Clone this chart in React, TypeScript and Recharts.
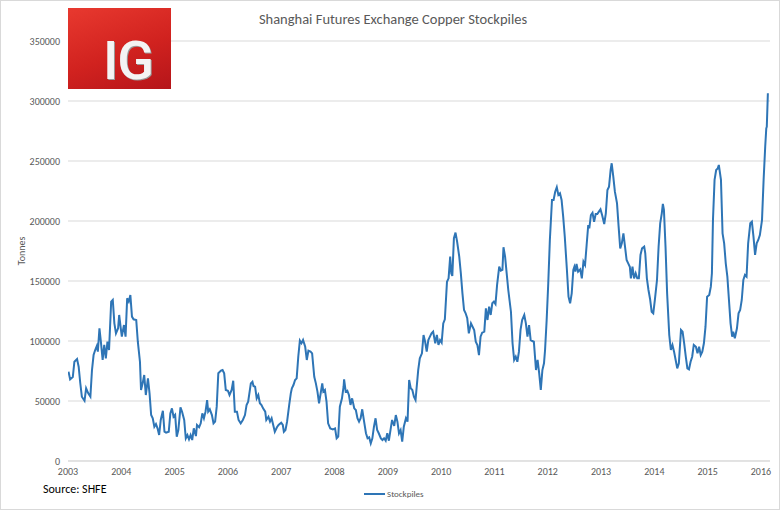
import { LineChart, Line, XAxis, YAxis, CartesianGrid } from 'recharts';

// weekly-ish readings of SHFE copper stocks (decimal year, tonnes)
const dates = [
  2003.01, 2003.04, 2003.09, 2003.12, 2003.17, 2003.2, 2003.23, 2003.26, 2003.31, 2003.34,
  2003.38, 2003.42, 2003.45, 2003.48, 2003.51, 2003.54, 2003.56, 2003.59, 2003.62, 2003.65,
  2003.68, 2003.71, 2003.74, 2003.77, 2003.81, 2003.84, 2003.87, 2003.9, 2003.94, 2003.96,
  2003.99, 2004.01, 2004.05, 2004.08, 2004.11, 2004.14, 2004.17, 2004.2, 2004.23, 2004.28,
  2004.31, 2004.35, 2004.37, 2004.4, 2004.43, 2004.46, 2004.5, 2004.53, 2004.56, 2004.59,
  2004.62, 2004.65, 2004.68, 2004.71, 2004.74, 2004.78, 2004.81, 2004.84, 2004.89, 2004.92,
  2004.95, 2004.98, 2005.01, 2005.04, 2005.07, 2005.11, 2005.14, 2005.18, 2005.21, 2005.24,
  2005.27, 2005.3, 2005.33, 2005.36, 2005.4, 2005.42, 2005.46, 2005.49, 2005.52, 2005.55,
  2005.58, 2005.61, 2005.63, 2005.66, 2005.7, 2005.73, 2005.76, 2005.79, 2005.82, 2005.87,
  2005.9, 2005.93, 2005.96, 2006.0, 2006.03, 2006.07, 2006.1, 2006.13, 2006.17, 2006.2,
  2006.24, 2006.28, 2006.32, 2006.35, 2006.38, 2006.43, 2006.46, 2006.48, 2006.51, 2006.54,
  2006.57, 2006.6, 2006.63, 2006.66, 2006.7, 2006.72, 2006.76, 2006.79, 2006.82, 2006.85,
  2006.88, 2006.92, 2006.95, 2007.0, 2007.03, 2007.05, 2007.08, 2007.11, 2007.15, 2007.18,
  2007.2, 2007.23, 2007.26, 2007.29, 2007.32, 2007.35, 2007.38, 2007.41, 2007.45, 2007.48,
  2007.51, 2007.55, 2007.58, 2007.62, 2007.65, 2007.68, 2007.71, 2007.74, 2007.77, 2007.79,
  2007.82, 2007.85, 2007.88, 2007.92, 2007.97, 2008.01, 2008.04, 2008.07, 2008.1, 2008.14,
  2008.17, 2008.18, 2008.21, 2008.24, 2008.27, 2008.3, 2008.33, 2008.37, 2008.4, 2008.43,
  2008.46, 2008.49, 2008.52, 2008.55, 2008.59, 2008.62, 2008.65, 2008.68, 2008.71, 2008.74,
  2008.77, 2008.8, 2008.83, 2008.87, 2008.9, 2008.93, 2008.96, 2008.99, 2009.02, 2009.05,
  2009.08, 2009.12, 2009.15, 2009.18, 2009.21, 2009.24, 2009.27, 2009.3, 2009.34, 2009.37,
  2009.4, 2009.43, 2009.46, 2009.49, 2009.52, 2009.57, 2009.6, 2009.64, 2009.67, 2009.7,
  2009.73, 2009.76, 2009.79, 2009.82, 2009.85, 2009.89, 2009.92, 2009.95, 2009.98, 2010.01,
  2010.04, 2010.07, 2010.11, 2010.14, 2010.17, 2010.19, 2010.21, 2010.24, 2010.27, 2010.3,
  2010.34, 2010.37, 2010.4, 2010.43, 2010.46, 2010.49, 2010.52, 2010.56, 2010.59, 2010.62,
  2010.65, 2010.68, 2010.71, 2010.74, 2010.77, 2010.81, 2010.84, 2010.87, 2010.9, 2010.93,
  2010.96, 2010.99, 2011.02, 2011.05, 2011.09, 2011.12, 2011.15, 2011.17, 2011.2, 2011.23,
  2011.26, 2011.31, 2011.34, 2011.37, 2011.4, 2011.43, 2011.46, 2011.49, 2011.52, 2011.56,
  2011.59, 2011.62, 2011.65, 2011.68, 2011.71, 2011.74, 2011.78, 2011.81, 2011.84, 2011.87,
  2011.9, 2011.93, 2011.95, 2011.98, 2012.01, 2012.04, 2012.08, 2012.11, 2012.14, 2012.17,
  2012.2, 2012.23, 2012.26, 2012.29, 2012.32, 2012.36, 2012.39, 2012.42, 2012.45, 2012.48,
  2012.5, 2012.52, 2012.54, 2012.57, 2012.61, 2012.64, 2012.67, 2012.7, 2012.73, 2012.76,
  2012.78, 2012.81, 2012.84, 2012.87, 2012.9, 2012.93, 2012.96, 2012.99, 2013.02, 2013.06,
  2013.09, 2013.12, 2013.15, 2013.18, 2013.2, 2013.23, 2013.26, 2013.3, 2013.33, 2013.36,
  2013.39, 2013.42, 2013.45, 2013.48, 2013.51, 2013.54, 2013.56, 2013.59, 2013.62, 2013.65,
  2013.68, 2013.71, 2013.74, 2013.77, 2013.81, 2013.83, 2013.86, 2013.89, 2013.92, 2013.95,
  2013.98, 2014.01, 2014.05, 2014.08, 2014.11, 2014.14, 2014.16, 2014.18, 2014.21, 2014.24,
  2014.28, 2014.31, 2014.34, 2014.37, 2014.4, 2014.43, 2014.46, 2014.5, 2014.53, 2014.56,
  2014.59, 2014.62, 2014.65, 2014.68, 2014.71, 2014.74, 2014.78, 2014.81, 2014.84, 2014.87,
  2014.9, 2014.93, 2014.96, 2014.99, 2015.03, 2015.06, 2015.08, 2015.1, 2015.13, 2015.16,
  2015.19, 2015.21, 2015.25, 2015.28, 2015.31, 2015.34, 2015.37, 2015.4, 2015.43, 2015.46,
  2015.48, 2015.51, 2015.55, 2015.58, 2015.61, 2015.64, 2015.67, 2015.7, 2015.73, 2015.76,
  2015.8, 2015.83, 2015.86, 2015.89, 2015.92, 2015.95, 2015.98, 2016.02, 2016.05, 2016.08,
  2016.1, 2016.11, 2016.13,
];

const stockpiles = [
  74400, 68000, 70000, 82700, 85000, 78600, 65000, 53600, 50200, 60600,
  56400, 53600, 75800, 88300, 92500, 95800, 91100, 110600, 98100, 84200,
  96700, 85600, 99400, 92500, 132800, 134200, 114700, 106400, 110600, 121700,
  110600, 103600, 113300, 103600, 135600, 132800, 138300, 120300, 118100, 117500,
  99400, 82700, 59200, 64700, 71700, 55000, 68900, 56400, 38300, 35600,
  28600, 30800, 27200, 21700, 34200, 41900, 24400, 23600, 24400, 39700,
  43900, 36900, 38500, 20300, 25800, 44700, 41100, 34200, 18900, 21700,
  18100, 21700, 17500, 27200, 20800, 30000, 28100, 31400, 39700, 35600,
  41100, 50800, 41100, 43100, 38300, 31400, 32800, 45300, 73100, 75300,
  75800, 73100, 59200, 58600, 55000, 59200, 66900, 41100, 41100, 34200,
  31400, 34200, 38300, 46700, 49400, 64700, 66100, 62500, 61900, 52200,
  55000, 48100, 46700, 43900, 41100, 34200, 36900, 32800, 35600, 30000,
  24400, 28100, 30000, 31900, 30000, 24400, 25800, 32800, 46700, 56400,
  60600, 63300, 67500, 68900, 86900, 100300, 98100, 100800, 95200, 84200,
  91900, 91100, 89700, 70200, 64700, 57800, 48100, 56400, 64700, 57800,
  59200, 49400, 31400, 27200, 26400, 27200, 18900, 20300, 45300, 52200,
  61900, 68100, 57800, 58600, 55000, 46700, 52200, 43900, 42500, 35600,
  32800, 35600, 43100, 34200, 23100, 18900, 19700, 14700, 18900, 28600,
  35600, 25800, 23100, 18900, 17500, 18900, 16900, 23100, 16900, 25800,
  34200, 29200, 38300, 32800, 23100, 25800, 16100, 28600, 35600, 32800,
  67500, 60600, 59200, 53600, 50800, 75800, 85600, 89700, 105000, 99400,
  91100, 100800, 103600, 106400, 107800, 98100, 105000, 96700, 100800, 98600,
  114700, 118100, 149400, 152200, 170300, 156400, 154200, 185600, 190300, 182800,
  170300, 156400, 139700, 125800, 123100, 118900, 106400, 114700, 111900, 109200,
  99400, 96700, 88300, 103600, 106900, 107800, 127200, 117500, 128600, 121700,
  131400, 132800, 130800, 146700, 161900, 158600, 159200, 178100, 170300, 156400,
  142500, 124400, 98100, 84200, 86900, 82700, 91100, 109200, 117500, 121700,
  114700, 103600, 113300, 100800, 100000, 99400, 75800, 84200, 73100, 59200,
  75800, 81400, 92500, 117500, 148100, 184200, 217500, 217500, 224400, 228100,
  221700, 223100, 217500, 203600, 186900, 159200, 136900, 131400, 139700, 159200,
  161900, 157800, 164200, 157800, 159700, 152200, 166100, 163300, 180000, 196700,
  193900, 205000, 206900, 199400, 205800, 205800, 207800, 209700, 205000, 197500,
  206400, 225800, 228600, 242500, 248100, 236900, 224400, 214700, 195300, 177200,
  181400, 189700, 178600, 167500, 164700, 161900, 152200, 161900, 152200, 156400,
  152200, 152200, 171700, 177200, 178600, 173100, 152200, 142500, 135000, 124400,
  123100, 134200, 150800, 178600, 198100, 206400, 214200, 209200, 178600, 139700,
  105000, 92500, 96700, 91100, 84200, 77200, 81400, 109200, 107800, 98100,
  86900, 77200, 76400, 82700, 86900, 96700, 95200, 89700, 95200, 88300,
  91100, 98100, 111900, 136900, 138300, 145300, 156400, 200800, 234200, 242500,
  243900, 246700, 234200, 189700, 181400, 164700, 153600, 134200, 114700, 103600,
  107800, 102200, 110600, 123100, 125800, 134200, 150800, 155000, 153600, 181400,
  198100, 199400, 186900, 171700, 181400, 184200, 188300, 200800, 234200, 261900,
  277200, 278600, 306400,
];

const yearTicks = [2003, 2004, 2005, 2006, 2007, 2008, 2009, 2010, 2011, 2012, 2013, 2014, 2015, 2016];
const tonneTicks = [0, 50000, 100000, 150000, 200000, 250000, 300000, 350000];

const data = dates.map((d, i) => ({ date: d, stockpiles: stockpiles[i] }));

const FONT = "Carlito, 'Liberation Sans Narrow', 'DejaVu Sans Condensed', sans-serif";
const GREY = '#595959';
const BLUE = '#2e75b6';

export default function App() {
  return (
    <div
      style={{
        position: 'absolute',
        left: 0,
        top: 0,
        width: 780,
        height: 510,
        background: '#fff',
        border: '1px solid #d9d9d9',
        boxSizing: 'border-box',
        fontFamily: FONT,
        overflow: 'hidden',
      }}
    >
      <div style={{ position: 'absolute', left: -1, top: -1 }}>
        <LineChart width={780} height={510} data={data} margin={{ top: 41, right: 10, bottom: 29, left: 0 }}>
          <CartesianGrid vertical={false} stroke="#d9d9d9" />
          <XAxis
            dataKey="date"
            type="number"
            domain={[2003, 2016.17]}
            ticks={yearTicks}
            interval={0}
            allowDataOverflow
            height={20}
            axisLine={{ stroke: '#d9d9d9' }}
            tickLine={false}
            tickSize={0}
            tickMargin={7}
            tick={{ fill: GREY, fontSize: 10, fontFamily: FONT }}
          />
          <YAxis
            domain={[0, 350000]}
            ticks={tonneTicks}
            interval={0}
            width={68}
            axisLine={false}
            tickLine={false}
            tickSize={0}
            tickMargin={8}
            tick={{ fill: GREY, fontSize: 10, fontFamily: FONT }}
          />
          <Line
            type="linear"
            dataKey="stockpiles"
            name="Stockpiles"
            stroke={BLUE}
            strokeWidth={2}
            dot={false}
            isAnimationActive={false}
          />
        </LineChart>
      </div>

      {/* IG logo */}
      <div
        style={{
          position: 'absolute',
          left: 67,
          top: 7,
          width: 103,
          height: 81,
          background: 'linear-gradient(160deg, #e8392f 0%, #d1221f 55%, #b5151a 100%)',
        }}
      >
        <div
          style={{
            position: 'absolute',
            left: 35,
            top: 26,
            fontFamily: "Roboto, 'DejaVu Sans', sans-serif",
            fontWeight: 500,
            fontSize: 54,
            lineHeight: '54px',
            letterSpacing: -1,
            color: '#f4f4f4',
            textShadow: '1px 1px 0 #9a9a9a',
          }}
        >
          IG
        </div>
      </div>

      <div
        style={{
          position: 'absolute',
          left: 0,
          width: 780,
          top: 9,
          textAlign: 'center',
          fontSize: 14.5,
          color: GREY,
          paddingLeft: 4,
          boxSizing: 'border-box',
        }}
      >
        Shanghai Futures Exchange Copper Stockpiles
      </div>

      <div
        style={{
          position: 'absolute',
          left: 20,
          top: 250,
          transform: 'translate(-50%, -50%) rotate(-90deg)',
          fontSize: 10,
          color: GREY,
        }}
      >
        Tonnes
      </div>

      <div style={{ position: 'absolute', left: 42, top: 481, fontSize: 12, color: '#000' }}>Source: SHFE</div>

      <div style={{ position: 'absolute', left: 363, top: 487, display: 'flex', alignItems: 'center', fontSize: 9, color: GREY }}>
        <span style={{ display: 'inline-block', width: 21, height: 2, background: BLUE, marginRight: 2 }} />
        Stockpiles
      </div>
    </div>
  );
}
